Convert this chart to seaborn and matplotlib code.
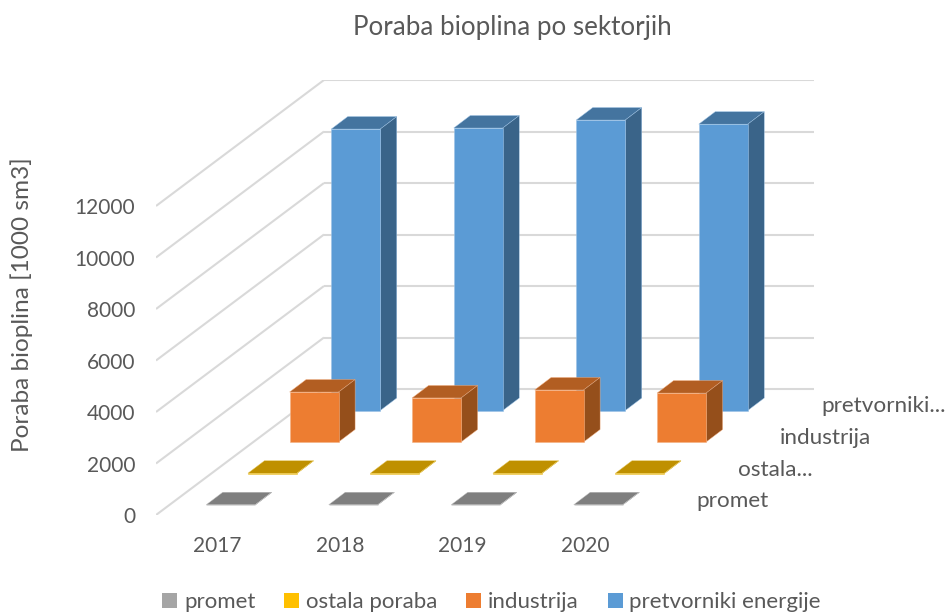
import matplotlib
matplotlib.use("Agg")
import matplotlib.pyplot as plt
from matplotlib.patches import Polygon, Patch
import numpy as np
import seaborn as sns

# ---- data ----
years = ["2017", "2018", "2019", "2020"]
series_names = ["promet", "ostala poraba", "industrija", "pretvorniki energije"]
depth_labels = ["promet", "ostala...", "industrija", "pretvorniki..."]
promet = [10, 10, 10, 10]
ostala = [10, 10, 10, 10]
industrija = [1940, 1710, 2020, 1900]
pretvorniki = [10930, 10970, 11280, 11120]
y_ticks = [0, 2000, 4000, 6000, 8000, 10000, 12000]

# ---- styling ----
front_cols = ["#A5A5A5", "#FFC000", "#ED7D31", "#5B9BD5"]
top_cols = ["#7F7F7F", "#BF9000", "#B25E22", "#44749F"]
side_cols = ["#6E6E6E", "#A67D00", "#954F1B", "#3A6489"]
edge_cols = ["#BFBFBF", "#E5C65A", "#F4B183", "#9DC3E6"]
TXT = "#595959"
GRID = "#D9D9D9"
FONT = ["Lato", "DejaVu Sans"]

sns.set_theme(style="white")
plt.rcParams["font.family"] = FONT

W, H = 947, 614
fig = plt.figure(figsize=(W / 100, H / 100), dpi=100)
L, R, T, B = 156, 815, 80, 515
ax = fig.add_axes([L / W, (H - B) / H, (R - L) / W, (B - T) / H])

# oblique projection: pixel sizes converted to the axes' own units
cat_px = 122.5
val_px = 51.5 / 2000
PX, PY = 1 / cat_px, 1 / val_px
bar_w = 49 * PX
slot_dx, slot_dy = 41.67 * PX, 31.5 * PY
off_dx, off_dy = 13.5 * PX, 10 * PY
bar_dx, bar_dy = 16.5 * PX, 12.5 * PY
wall_dx, wall_dy = 168 * PX, 126 * PY

series = [promet, ostala, industrija, pretvorniki]

# walls
n = len(years)
for v in y_ticks:
    ax.plot([0, wall_dx], [v, v + wall_dy], color=GRID, lw=1.5, zorder=1, solid_capstyle="butt")
    ax.plot([wall_dx, wall_dx + n], [v + wall_dy, v + wall_dy], color=GRID, lw=1.5, zorder=1,
            solid_capstyle="butt")

# bars, back to front
for s in range(3, -1, -1):
    z = 10 + (3 - s) * 3
    vals = np.array(series[s], float)
    xs = np.arange(n) + 0.5 + off_dx + s * slot_dx
    base = off_dy + s * slot_dy
    for x, v in zip(xs, vals):
        x0, x1 = x - bar_w / 2, x + bar_w / 2
        top = base + v
        ax.add_patch(Polygon([(x0, top), (x1, top), (x1 + bar_dx, top + bar_dy), (x0 + bar_dx, top + bar_dy)],
                             closed=True, fc=top_cols[s], ec=edge_cols[s], lw=0.3, zorder=z))
        ax.add_patch(Polygon([(x1, base), (x1 + bar_dx, base + bar_dy), (x1 + bar_dx, top + bar_dy), (x1, top)],
                             closed=True, fc=side_cols[s], ec=edge_cols[s], lw=0.3, zorder=z))
    sns.barplot(x=xs, y=vals, native_scale=True, width=49 / 122.5, bottom=base, color=front_cols[s],
                saturation=1, edgecolor=edge_cols[s], linewidth=0.4, zorder=z + 1, ax=ax, legend=False)
    ax.text((696 - L) * PX + s * slot_dx, (B - 501) * PY + s * slot_dy, depth_labels[s],
            color=TXT, fontsize=16.2, ha="left", va="center", clip_on=False)

ax.set_xlim(0, (R - L) * PX)
ax.set_ylim(0, (B - T) * PY)
ax.set_xticks(np.arange(n) + 0.5, years)
ax.set_yticks(y_ticks)
ax.tick_params(axis="x", length=0, pad=15, labelsize=15, labelcolor=TXT)
ax.tick_params(axis="y", length=0, pad=15, labelsize=15, labelcolor=TXT)
ax.set_xlabel("")
ax.set_ylabel("")
sns.despine(ax=ax, left=True, bottom=True)
ax.patch.set_alpha(0)

fig.text(512 / W, 1 - 27 / H, "Poraba bioplina po sektorjih", color=TXT, fontsize=18.7, ha="center", va="center")
fig.text(22 / W, 1 - 305 / H, "Poraba bioplina [1000 sm3]", color=TXT, fontsize=17.6, rotation=90, ha="center", va="center")

handles = [Patch(fc=c, ec="none") for c in front_cols]
fig.legend(handles, series_names, loc="center", bbox_to_anchor=(491.5 / W, 1 - 602 / H), ncol=4, frameon=False,
           fontsize=16, labelcolor=TXT, handlelength=0.68, handleheight=0.68, handletextpad=0.3,
           columnspacing=1.3, borderpad=0, borderaxespad=0)

fig.savefig("out.png", dpi=100, facecolor="white")
